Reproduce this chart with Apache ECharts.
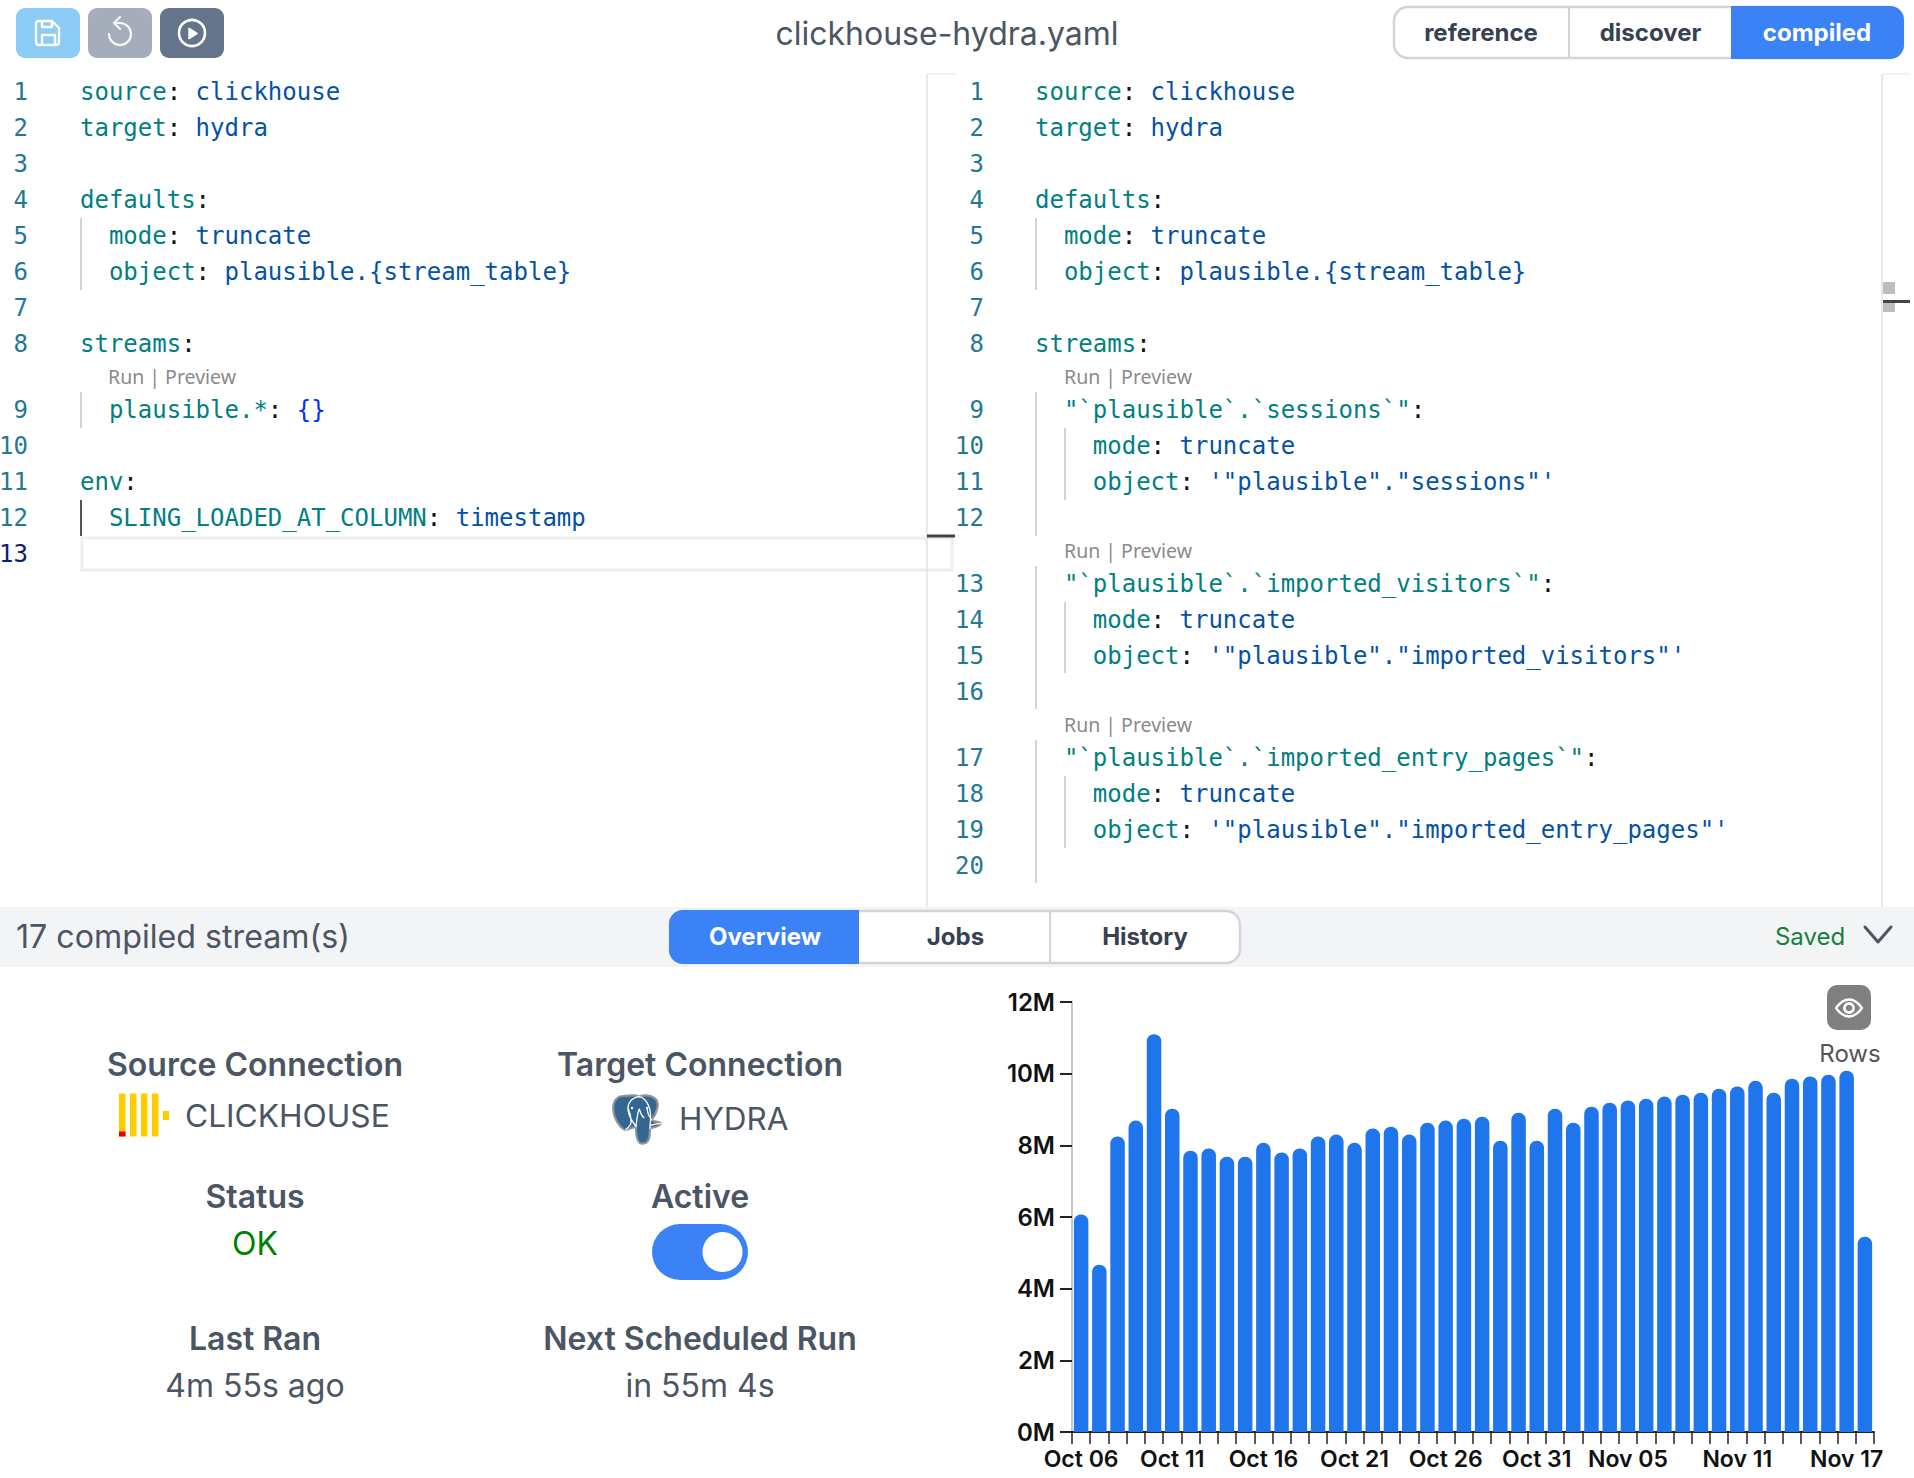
<!DOCTYPE html>
<html><head><meta charset="utf-8">
<style>html,body{margin:0;padding:0;background:#fff;overflow:hidden}#c{width:1914px;height:1478px}</style>
<script src="https://cdn.jsdelivr.net/npm/echarts@6/dist/echarts.min.js"></script>
</head><body><div id="c"></div>
<script>
// ---- chart data ----
const dates = ['Oct 06','Oct 07','Oct 08','Oct 09','Oct 10','Oct 11','Oct 12','Oct 13','Oct 14','Oct 15','Oct 16','Oct 17','Oct 18','Oct 19','Oct 20','Oct 21','Oct 22','Oct 23','Oct 24','Oct 25','Oct 26','Oct 27','Oct 28','Oct 29','Oct 30','Oct 31','Nov 01','Nov 02','Nov 03','Nov 04','Nov 05','Nov 06','Nov 07','Nov 08','Nov 09','Nov 10','Nov 11','Nov 12','Nov 13','Nov 14','Nov 15','Nov 16','Nov 17','Nov 18'];
const rowsMillions = [6.07,4.67,8.25,8.69,11.10,9.02,7.85,7.91,7.68,7.68,8.07,7.80,7.91,8.25,8.30,8.07,8.47,8.52,8.30,8.63,8.69,8.74,8.80,8.13,8.91,8.13,9.02,8.63,9.08,9.19,9.25,9.30,9.36,9.41,9.47,9.58,9.64,9.80,9.47,9.86,9.92,9.97,10.08,5.45];
const shownDates = ['Oct 06','Oct 11','Oct 16','Oct 21','Oct 26','Oct 31','Nov 05','Nov 11','Nov 17'];

// ---- editor text: [line number, y centre, indent in chars, text tokens] ----
const K='#008080', V='#0451a5', P='#111111', B='#0431fa';
const leftCode = [
 [1,92,0,[['source',K],[': ',P],['clickhouse',V]]],
 [2,128,0,[['target',K],[': ',P],['hydra',V]]],
 [3,164,0,[]],
 [4,200,0,[['defaults',K],[':',P]]],
 [5,236,2,[['mode',K],[': ',P],['truncate',V]]],
 [6,272,2,[['object',K],[': ',P],['plausible.{stream_table}',V]]],
 [7,308,0,[]],
 [8,344,0,[['streams',K],[':',P]]],
 [9,410,2,[['plausible.*',K],[': ',P],['{}',B]]],
 [10,446,0,[]],
 [11,482,0,[['env',K],[':',P]]],
 [12,518,2,[['SLING_LOADED_AT_COLUMN',K],[': ',P],['timestamp',V]]],
 [13,554,0,[]]
];
const rightCode = [
 [1,92,0,[['source',K],[': ',P],['clickhouse',V]]],
 [2,128,0,[['target',K],[': ',P],['hydra',V]]],
 [3,164,0,[]],
 [4,200,0,[['defaults',K],[':',P]]],
 [5,236,2,[['mode',K],[': ',P],['truncate',V]]],
 [6,272,2,[['object',K],[': ',P],['plausible.{stream_table}',V]]],
 [7,308,0,[]],
 [8,344,0,[['streams',K],[':',P]]],
 [9,410,2,[['"`plausible`.`sessions`"',K],[':',P]]],
 [10,446,4,[['mode',K],[': ',P],['truncate',V]]],
 [11,482,4,[['object',K],[': ',P],['\'"plausible"."sessions"\'',V]]],
 [12,518,0,[]],
 [13,584,2,[['"`plausible`.`imported_visitors`"',K],[':',P]]],
 [14,620,4,[['mode',K],[': ',P],['truncate',V]]],
 [15,656,4,[['object',K],[': ',P],['\'"plausible"."imported_visitors"\'',V]]],
 [16,692,0,[]],
 [17,758,2,[['"`plausible`.`imported_entry_pages`"',K],[':',P]]],
 [18,794,4,[['mode',K],[': ',P],['truncate',V]]],
 [19,830,4,[['object',K],[': ',P],['\'"plausible"."imported_entry_pages"\'',V]]],
 [20,866,0,[]]
];

// ---- helpers for the surrounding interface ----
const UI='Inter, "Noto Sans", sans-serif', MONO='"DejaVu Sans Mono", monospace', CW=14.45;
const g=[];
const text=(t,x,y,size,fill,weight,align,family)=>g.push({type:'text',z:5,style:{text:t,x,y,fontSize:size,fill,fontWeight:weight||400,fontFamily:family||UI,textAlign:align||'center',textVerticalAlign:'middle'}});
const rect=(x,y,w,h,fill,r,stroke,lw,z)=>g.push({type:'rect',z:z||1,shape:{x,y,width:w,height:h,r:r||0},style:{fill:fill||'none',stroke:stroke||'none',lineWidth:lw||0}});
const line=(x1,y1,x2,y2,stroke,lw)=>g.push({type:'line',z:2,shape:{x1,y1,x2,y2},style:{stroke,lineWidth:lw||2}});
let shapeCount=0;
const path=(d,x,y,scale,style)=>{
  const name='uiIcon'+(shapeCount++);
  echarts.graphic.registerShape(name,echarts.graphic.extendPath(d,{}));
  g.push({type:name,z:4,x,y,scaleX:scale,scaleY:scale,style:Object.assign({strokeNoScale:true,lineCap:'round',lineJoin:'round'},style)});
};
const circle=(cx,cy,r,style)=>g.push({type:'circle',z:4,shape:{cx,cy,r},style});

function drawCode(rows,numRight,codeX){
  rows.forEach(([n,y,ind,toks])=>{
    text(String(n),numRight,y,24,n===13&&rows===leftCode?'#0b216f':'#237893',400,'right',MONO);
    let c=ind;
    toks.forEach(([t,col])=>{text(t,codeX+c*CW,y,24,col,400,'left',MONO);c+=t.length;});
  });
}
drawCode(leftCode,28,80);
drawCode(rightCode,984,1035);
[[108,376],[1064,376],[1064,550],[1064,724]].forEach(([x,y])=>text('Run | Preview',x,y,19.5,'#8a8a8a',400,'left','"Noto Sans", sans-serif'));

// indent guides
const GUIDE='#d4d4d4';
[[81,218,290],[81,392,428],[1036,218,290],[1036,392,536],[1065,428,500],[1036,566,709],[1065,602,673],[1036,740,883],[1065,776,848]].forEach(([x,a,b])=>line(x,a,x,b,GUIDE,2));
line(81,500,81,536,'#555555',2);
// active line box and editor rules
rect(82,538,870,32,'none',0,'#eeeeee',3);
line(927,74,927,907,'#e2e2e2',1.5); line(927,74,955,74,'#eeeeee',1.5);
line(1882,74,1882,907,'#e2e2e2',1.5); line(1882,74,1910,74,'#eeeeee',1.5);
line(927,536,955,536,'#444444',3);
rect(1883,282,12,12,'#bdbdbd'); rect(1883,300,12,12,'#bdbdbd');
line(1883,301.5,1910,301.5,'#444444',3);

// top bar
rect(16,8,64,50,'#8ccbf5',9); rect(88,8,64,50,'#a5adba',9); rect(160,8,64,50,'#64748b',9);
path('M39 21H52L59 28V42Q59 45 56 45H39Q36 45 36 42V24Q36 21 39 21ZM42 21V27H52V21M42 45V35H55V45',0,0,1,{fill:'none',stroke:'#ffffff',lineWidth:2.4});
path('M109 34A11 11 0 1 0 120 23H114M120 17L114 23L120 29',0,0,1,{fill:'none',stroke:'#ffffff',lineWidth:2.2,opacity:.95});
circle(192,33,13,{fill:'none',stroke:'#ffffff',lineWidth:2.6});
path('M189 28.5L197 33.5L189 38.5Z',0,0,1,{fill:'#ffffff',stroke:'#ffffff',lineWidth:1.5});
text('clickhouse-hydra.yaml',947,33.5,32,'#4b5563',400);
rect(1394,7,509,51,'#ffffff',14,'#d1d5db',2.5);
rect(1731,6,173,53,'#3b82f6',[0,14,14,0],null,0,2);
line(1569,8,1569,57,'#d1d5db',2);
text('reference',1481,32.5,24,'#374151',700);
text('discover',1650.5,32.5,24,'#374151',700);
text('compiled',1817,32.5,24,'#ffffff',700);

// status band
rect(0,907,1914,60,'#f3f4f6');
text('17 compiled stream(s)',16,936,32.2,'#4b5563',400,'left');
rect(670,911,570,52,'#ffffff',14,'#d1d5db',2.5);
rect(669,910,190,54,'#3b82f6',[14,0,0,14],null,0,2);
line(1050,912,1050,962,'#d1d5db',2);
text('Overview',765,936,24,'#ffffff',700);
text('Jobs',955.5,936,24,'#374151',700);
text('History',1145,936,24,'#374151',700);
text('Saved',1810,936,24,'#15803d',400);
path('M0 0L13 15L26 0',1865,927,1,{fill:'none',stroke:'#4b5563',lineWidth:3});

// connection summary
const HEAD='#4b5563';
text('Source Connection',255,1064.5,32,HEAD,600);
text('Target Connection',700,1064.5,32,HEAD,600);
text('CLICKHOUSE',185,1115,31.7,'#4b5563',400,'left');
text('HYDRA',679,1118,31.5,'#4b5563',400,'left');
text('Status',255,1196.5,32,HEAD,600);
text('Active',700,1196.5,32,HEAD,600);
text('OK',255,1243.5,32,'#008000',400);
text('Last Ran',255,1338.5,32,HEAD,600);
text('Next Scheduled Run',700,1338.5,32,HEAD,600);
text('4m 55s ago',255,1385.5,32,'#4b5563',400);
text('in 55m 4s',700,1385.5,32,'#4b5563',400);
// ClickHouse mark
[119,130,141,152].forEach(x=>rect(x,1093.5,6.5,43,'#ffcc00',0,null,0,3));
rect(119,1131.5,6.5,5,'#e60000',0,null,0,4);
rect(163,1111,6,9,'#ffcc00',0,null,0,3);
// PostgreSQL elephant
path('M70 33C50 33 38 50 40 75C42 105 65 135 78 135C85 132 100 127 108 125C108 145 110 176 128 176C150 176 150 150 150 130C160 128 180 125 183 115C175 108 160 112 155 105C170 85 182 55 165 40C150 28 128 30 118 35C105 29 85 31 70 33Z',600,1085,1/3,{fill:'#336791',stroke:'#8f9499',lineWidth:2.2});
path('M118 35C95 38 80 55 85 80C88 100 100 112 108 125M118 35C135 38 150 60 152 90C152 105 150 125 150 130M85 72C92 90 95 108 92 118C88 125 82 128 78 135M155 105C148 95 142 85 142 72M108 125C110 105 112 85 118 72C122 85 128 95 132 98M183 115C170 116 160 118 150 122',600,1085,1/3,{fill:'none',stroke:'#ffffff',lineWidth:1.3});
circle(632,1108,1.2,{fill:'#ffffff'}); circle(647,1108,1.2,{fill:'#ffffff'});
// toggle
rect(652,1224,96,56,'#3b82f6',28);
circle(722.5,1252,20,{fill:'#ffffff'});

// eye button
rect(1827,985,44,45,'#808080',10);
path('M0 8.5C4 3 9 0 13 0C17 0 22 3 26 8.5C22 14 17 17 13 17C9 17 4 14 0 8.5Z',1836,999.5,1,{fill:'none',stroke:'#ffffff',lineWidth:2.4});
circle(1849,1008,4.6,{fill:'none',stroke:'#ffffff',lineWidth:2.6});
text('Rows',1850,1053,24,'#555555',400);

const chart=echarts.init(document.getElementById('c'),null,{renderer:'svg'});
chart.setOption({
  animation:false,
  backgroundColor:'#ffffff',
  grid:{left:1072,top:1002,width:802,height:430},
  xAxis:{type:'category',data:dates,boundaryGap:true,
    axisLine:{lineStyle:{color:'#222222',width:2}},
    axisTick:{show:true,alignWithLabel:false,interval:0,length:12,lineStyle:{color:'#222222',width:1.5}},
    axisLabel:{interval:(i,v)=>shownDates.includes(v),margin:15,fontFamily:UI,fontSize:23,fontWeight:600,color:'#111111',hideOverlap:false}},
  yAxis:{type:'value',min:0,max:12,interval:2,
    axisLine:{show:true,lineStyle:{color:'#c8c8c8',width:2}},
    axisTick:{show:true,length:12,lineStyle:{color:'#222222',width:2}},
    splitLine:{show:false},
    axisLabel:{formatter:v=>v+'M',margin:17,fontFamily:UI,fontSize:24,fontWeight:600,color:'#111111'}},
  series:[{type:'bar',name:'Rows',data:rowsMillions,barWidth:14.5,itemStyle:{color:'#1f75eb',borderRadius:[7,7,0,0]}}],
  graphic:{elements:g}
});
</script></body></html>
